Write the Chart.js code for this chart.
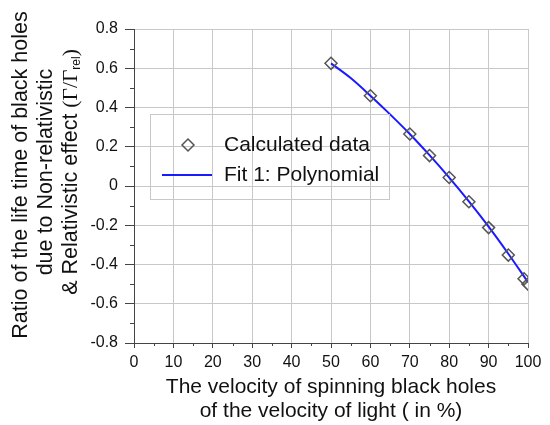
<!DOCTYPE html>
<html>
<head>
<meta charset="utf-8">
<script src="https://cdn.jsdelivr.net/npm/chart.js@4.4.1/dist/chart.umd.min.js"></script>
<style>
  html, body { margin: 0; padding: 0; background: #fff; }
  #wrap { width: 550px; height: 425px; }
</style>
</head>
<body>
<div id="wrap"><canvas id="chart" width="550" height="425"></canvas></div>
<script>
// data
const velocity = [50, 60, 70, 75, 80, 85, 90, 95, 99, 100];
const ratio = [0.625, 0.46, 0.265, 0.155, 0.043, -0.08, -0.212, -0.352, -0.473, -0.5];
const fitVelocity = [50, 55, 60, 65, 70, 75, 80, 85, 90, 95, 100];
const fitRatio = [0.625, 0.55, 0.46, 0.365, 0.265, 0.157, 0.043, -0.078, -0.207, -0.345, -0.49];
const xMinorTicks = [5, 15, 25, 35, 45, 55, 65, 75, 85, 95];
const yMinorTicks = [-0.7, -0.5, -0.3, -0.1, 0.1, 0.3, 0.5, 0.7];
const legendLabels = ["Calculated data", "Fit 1: Polynomial"];
const yTitleLines = ["Ratio of the life time of black holes", "due to Non-relativistic", "& Relativistic effect "];
const xTitleLines = ["The velocity of spinning black holes", "of the velocity of light ( in %)"];

const font = "'Liberation Sans', Arial, sans-serif";
const serif = "'Liberation Serif', serif";
const gridColor = "#c8c8c8";
const axisColor = "#444";

// short minor ticks on the axes
const minorTicks = {
  id: "minorTicks",
  afterDraw(chart) {
    const ctx = chart.ctx;
    const xs = chart.scales.x, ys = chart.scales.y;
    const area = chart.chartArea;
    ctx.save();
    ctx.strokeStyle = axisColor;
    ctx.lineWidth = 1;
    ctx.beginPath();
    xMinorTicks.forEach(v => {
      const px = Math.round(xs.getPixelForValue(v)) + 0.5;
      ctx.moveTo(px, area.bottom);
      ctx.lineTo(px, area.bottom + 3);
    });
    yMinorTicks.forEach(v => {
      const py = Math.round(ys.getPixelForValue(v)) + 0.5;
      ctx.moveTo(area.left, py);
      ctx.lineTo(area.left - 4, py);
    });
    ctx.stroke();
    ctx.restore();
  }
};

// y title with the Γ/Γrel part
const yTitle = {
  id: "yTitle",
  afterDraw(chart) {
    const ctx = chart.ctx;
    const size = 21.5;
    ctx.save();
    ctx.fillStyle = "#111";
    ctx.textBaseline = "middle";
    ctx.textAlign = "center";
    ctx.font = size + "px " + font;
    const xs = [21, 46, 71];
    const ys = [175, 172];
    [0, 1].forEach(i => {
      ctx.save();
      ctx.translate(xs[i], ys[i]);
      ctx.rotate(-Math.PI / 2);
      ctx.fillText(yTitleLines[i], 0, 0);
      ctx.restore();
    });
    // third line: text + serif gamma part
    ctx.save();
    ctx.translate(xs[2], 172);
    ctx.rotate(-Math.PI / 2);
    ctx.font = size + "px " + font;
    const w1 = ctx.measureText(yTitleLines[2]).width;
    ctx.font = size + "px " + serif;
    const g1 = "(Γ/Γ";
    const w2 = ctx.measureText(g1).width;
    ctx.font = "12px " + font;
    const w3 = ctx.measureText("rel").width;
    ctx.font = size + "px " + serif;
    const w4 = ctx.measureText(")").width;
    let x = -(w1 + w2 + w3 + w4) / 2;
    ctx.textAlign = "left";
    ctx.font = size + "px " + font;
    ctx.fillText(yTitleLines[2], x, 0); x += w1;
    ctx.font = size + "px " + serif;
    ctx.fillText(g1, x, 0); x += w2;
    ctx.font = "12px " + font;
    ctx.fillText("rel", x, 6); x += w3;
    ctx.font = size + "px " + serif;
    ctx.fillText(")", x, 0);
    ctx.restore();
    ctx.restore();
  }
};

// boxed legend inside the plot
const boxLegend = {
  id: "boxLegend",
  afterDraw(chart) {
    const ctx = chart.ctx;
    ctx.save();
    ctx.strokeStyle = "#c8c8c8";
    ctx.lineWidth = 1;
    ctx.strokeRect(150.5, 114.5, 239, 85);
    // diamond
    ctx.strokeStyle = "#555";
    ctx.lineWidth = 1.5;
    ctx.beginPath();
    ctx.moveTo(188, 139); ctx.lineTo(194, 145); ctx.lineTo(188, 151); ctx.lineTo(182, 145);
    ctx.closePath();
    ctx.stroke();
    // line
    ctx.strokeStyle = "#1a1aff";
    ctx.lineWidth = 2;
    ctx.beginPath();
    ctx.moveTo(162, 175); ctx.lineTo(212, 175);
    ctx.stroke();
    ctx.fillStyle = "#111";
    ctx.font = "21px " + font;
    ctx.textBaseline = "middle";
    ctx.fillText(legendLabels[0], 224, 145);
    ctx.fillText(legendLabels[1], 224, 175);
    ctx.restore();
  }
};

new Chart(document.getElementById("chart"), {
  type: "scatter",
  data: {
    datasets: [
      {
        label: legendLabels[1],
        type: "line",
        data: fitVelocity.map((v, i) => ({ x: v, y: fitRatio[i] })),
        borderColor: "#1a1aff",
        borderWidth: 2,
        pointRadius: 0,
        fill: false,
        cubicInterpolationMode: "monotone",
        order: 2
      },
      {
        label: legendLabels[0],
        data: velocity.map((v, i) => ({ x: v, y: ratio[i] })),
        pointStyle: "rectRot",
        pointRadius: 6,
        pointBorderColor: "#555",
        pointBackgroundColor: "rgba(0,0,0,0)",
        pointBorderWidth: 1.5,
        order: 1
      }
    ]
  },
  options: {
    responsive: false,
    animation: false,
    layout: { padding: { top: 29, right: 22, left: 0, bottom: 0 } },
    plugins: { legend: { display: false }, tooltip: { enabled: false } },
    scales: {
      x: {
        type: "linear",
        min: 0, max: 100,
        afterFit: s => { s.height = 82; },
        ticks: { stepSize: 10, color: "#111", font: { size: 16, family: font }, padding: 5 },
        grid: { color: gridColor, tickColor: axisColor, tickLength: 5 },
        border: { color: axisColor, width: 1 },
        title: {
          display: true,
          text: xTitleLines,
          color: "#111",
          font: { size: 21, family: font, lineHeight: 1.15 },
          padding: { top: 0, bottom: 2 }
        }
      },
      y: {
        min: -0.8, max: 0.8,
        afterFit: s => { s.width = 134; },
        ticks: {
          stepSize: 0.2,
          color: "#111",
          font: { size: 16, family: font },
          padding: 7,
          callback: v => String(Number(v.toFixed(1)))
        },
        grid: { color: gridColor, tickColor: axisColor, tickLength: 9 },
        border: { color: axisColor, width: 1 }
      }
    }
  },
  plugins: [minorTicks, yTitle, boxLegend]
});
</script>
</body>
</html>
